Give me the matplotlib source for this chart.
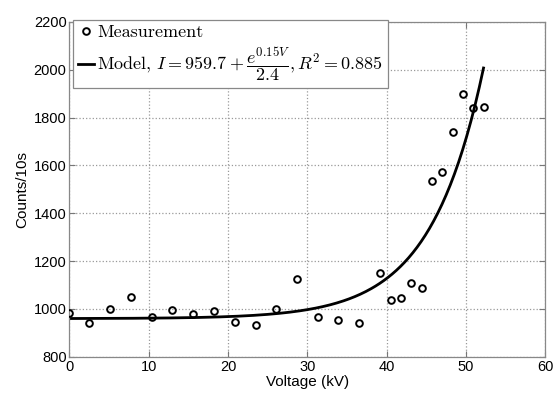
import numpy as np
import matplotlib
matplotlib.use("Agg")
import matplotlib.pyplot as plt

voltage = [0.0, 2.5, 5.1, 7.8, 10.4, 13.0, 15.6, 18.2, 20.9, 23.5, 26.1, 28.7,
           31.3, 33.9, 36.5, 39.2, 40.5, 41.8, 43.1, 44.4, 45.7, 47.0, 48.3,
           49.6, 50.9, 52.2]
counts = [983, 943, 998, 1050, 968, 995, 980, 991, 946, 935, 998, 1127,
          966, 953, 941, 1149, 1036, 1046, 1107, 1088, 1534, 1572, 1739,
          1899, 1842, 1844]

# Model parameters (from legend)
model_offset = 959.7
model_rate = 0.15
model_div = 2.4
model_vmax = 52.2

xticks = [0, 10, 20, 30, 40, 50, 60]
yticks = [800, 1000, 1200, 1400, 1600, 1800, 2000, 2200]

plt.rcParams['mathtext.fontset'] = 'cm'
plt.rcParams['axes.unicode_minus'] = False

fig = plt.figure(figsize=(5.53, 4.0), dpi=100)
ax = fig.add_axes([0.1253, 0.108, 0.861, 0.837])

vm = np.linspace(0, model_vmax, 300)
im = model_offset + np.exp(model_rate * vm) / model_div

ax.plot(voltage, counts, 'o', mfc='none', mec='black', mew=1.4, ms=4.8,
        label='Measurement', zorder=3)
ax.plot(vm, im, '-', color='black', lw=2.0,
        label=r'Model, $I = 959.7 + \dfrac{e^{0.15V}}{2.4}, R^2 = 0.885$', zorder=2)

ax.set_xlim(0, 60)
ax.set_ylim(800, 2200)
ax.set_xticks(xticks)
ax.set_yticks(yticks)
ax.grid(True, linestyle=':', color='#999999', linewidth=0.9)
ax.tick_params(direction='in', top=True, right=True, length=4, color='#777777',
               labelsize=10.5, pad=2)
for lab in ax.get_xticklabels() + ax.get_yticklabels():
    lab.set_family('Liberation Sans')
for s in ax.spines.values():
    s.set_color('#888888')
    s.set_linewidth(0.9)

ax.set_xlabel('Voltage (kV)', family='Liberation Sans', fontsize=11, labelpad=1)
ax.set_ylabel('Counts/10s', family='Liberation Sans', fontsize=11, labelpad=3)

leg = ax.legend(loc='upper left', bbox_to_anchor=(0.008, 1.006), fancybox=False,
                edgecolor='#888888', framealpha=1,
                prop={'family': 'cmr10', 'size': 13},
                handlelength=0.9, handletextpad=0.2, borderpad=0.25,
                labelspacing=0.3, borderaxespad=0.0)
leg.get_frame().set_linewidth(0.9)

fig.savefig('out.png', dpi=100)
